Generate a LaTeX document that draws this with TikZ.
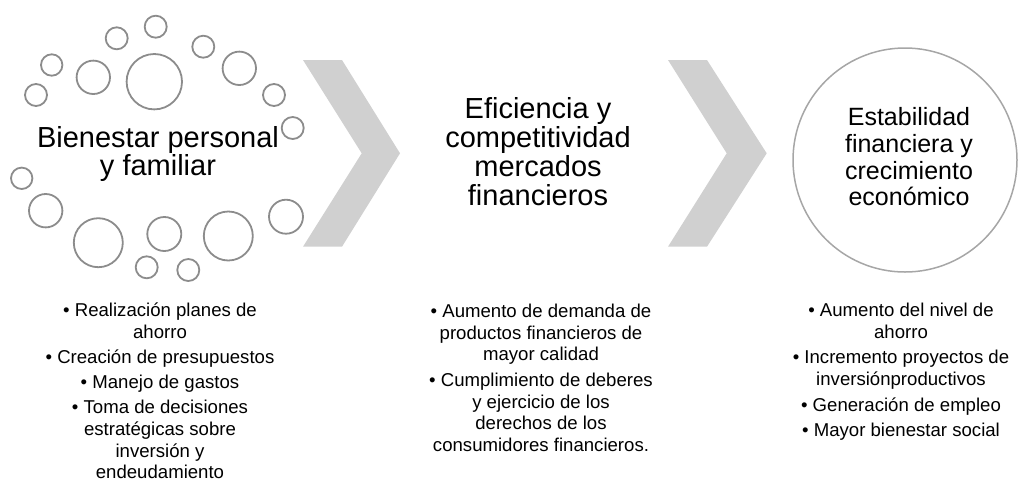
\documentclass[tikz,border=0pt]{standalone}
\usepackage{fontspec}
\setmainfont{Liberation Sans}
\definecolor{bubblegray}{HTML}{8C8C8C}
\definecolor{chevgray}{HTML}{D0D0D0}
\definecolor{ringgray}{HTML}{A6A6A6}
\tikzset{
  bubble/.style={draw=bubblegray, line width=1.8pt},
  chevron/.style={fill=chevgray, draw=none},
  headtext/.style={inner sep=0pt, align=center},
  listtext/.style={inner sep=0pt, align=center, anchor=north,
    font=\fontsize{18.6}{21.6}\selectfont}
}
\begin{document}
\begin{tikzpicture}[x=1pt,y=-1pt]
  \useasboundingbox (0,0) rectangle (1027,483);
  % small circles round the first stage
  \foreach \cx/\cy/\cr in {155.7/26.7/11, 116.7/38.3/11, 203.3/46.7/11, 51.7/65/10.7,
      93.3/77.3/16.7, 154.3/81.7/27.7, 239.3/68.3/16.7, 36/95/11, 274/95/11,
      292.7/128/11, 21.7/178.3/10.7, 45.7/210.7/16.7, 98.3/242.7/24.5,
      164.3/234/17, 228.3/236/24.5, 286/216.7/17, 146.7/267.3/11, 188.3/270/11}
    \draw[bubble] (\cx,\cy) circle [radius=\cr pt];
  % chevrons
  \fill[chevron] (303,60)--(342,60)--(400,153.3)--(342,246.7)--(303,246.7)--(361.7,153.3)--cycle;
  \fill[chevron] (668,60)--(707,60)--(766.7,153.3)--(707,246.7)--(668,246.7)--(726.7,153.3)--cycle;
  % last stage ring
  \draw[ringgray, line width=1.5pt] (905,160) circle [radius=112pt];
  % stage titles
  \node[headtext, font=\fontsize{29}{28}\selectfont] (bienestar) at (158,154)
    {Bienestar personal\\y familiar};
  \node[headtext, font=\fontsize{29}{29}\selectfont] (eficiencia) at (538,152)
    {Eficiencia y\\competitividad\\mercados\\financieros};
  \node[headtext, font=\fontsize{25}{26.7}\selectfont] (estabilidad) at (909,157)
    {Estabilidad\\financiera y\\crecimiento\\económico};
  % stage lists
  \node[listtext] (bienestarlist) at (160,303)
    {• Realización planes de\\ahorro\\[3.5pt]
     • Creación de presupuestos\\[3.5pt]
     • Manejo de gastos\\[3.5pt]
     • Toma de decisiones\\estratégicas sobre\\inversión y\\endeudamiento};
  \node[listtext] (eficiencialist) at (541,304)
    {• Aumento de demanda de\\productos financieros de\\mayor calidad\\[4pt]
     • Cumplimiento de deberes\\y ejercicio de los\\derechos de los\\consumidores financieros.};
  \node[listtext] (estabilidadlist) at (901,303)
    {• Aumento del nivel de\\ahorro\\[4pt]
     • Incremento proyectos de\\inversiónproductivos\\[4pt]
     • Generación de empleo\\[4pt]
     • Mayor bienestar social};
\end{tikzpicture}
\end{document}
